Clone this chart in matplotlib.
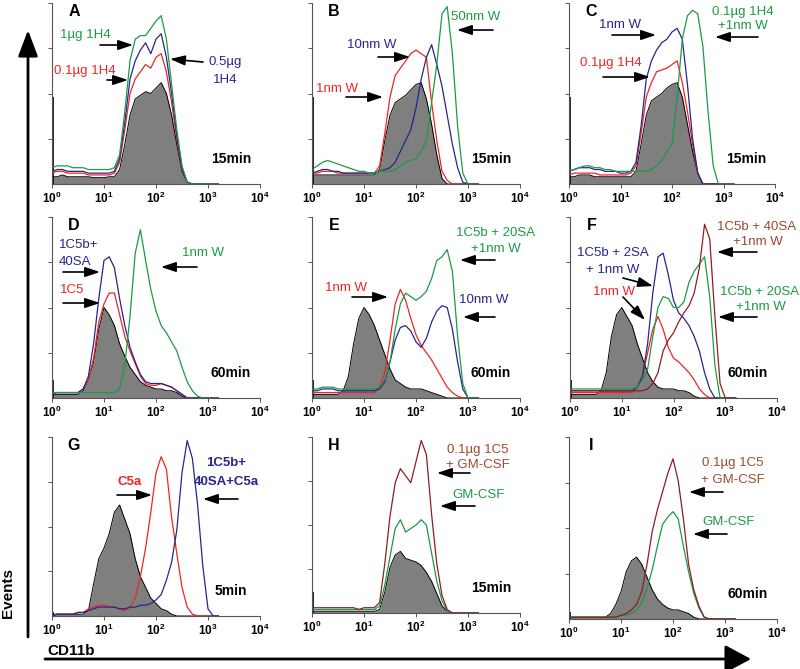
import numpy as np
import matplotlib
matplotlib.use("Agg")
import matplotlib.pyplot as plt
from matplotlib.patches import FancyArrowPatch

plt.rcParams["font.family"] = ["Liberation Sans", "DejaVu Sans"]
plt.rcParams["mathtext.fontset"] = "custom"
plt.rcParams["mathtext.rm"] = "Liberation Sans"
plt.rcParams["mathtext.bf"] = "Liberation Sans:bold"

# CD11b fluorescence bins (log10), events as % of panel height
log_bins = np.round(np.arange(0, 3.25, 0.1), 1)

a_gray = [4, 4, 5, 4, 4, 4, 4, 4, 3.5, 3.5, 3.5, 4, 4, 8, 22, 38, 47, 49, 51, 50, 53, 56, 50, 38, 22, 7, 1, 0, 0, 0, 0, 0, 0]
a_red = [6, 7, 7, 6, 6, 6, 6, 5, 5, 5, 5, 5, 6, 12, 30, 50, 58, 62, 66, 64, 70, 72, 62, 45, 25, 8, 1, 0, 0, 0, 0, 0, 0]
a_blue = [7, 8, 8, 7, 7, 7, 7, 6, 6, 6, 6, 6, 7, 14, 34, 58, 68, 74, 78, 72, 80, 83, 70, 50, 27, 9, 1, 0, 0, 0, 0, 0, 0]
a_green = [9, 10, 10, 10, 9, 9, 9, 8, 8, 8, 8, 8, 9, 16, 40, 68, 80, 82, 82, 86, 90, 93, 80, 55, 30, 10, 1, 0, 0, 0, 0, 0, 0]

b_gray = [5, 5, 5, 5, 5, 5, 5, 5, 5, 5, 5, 5, 5, 8, 24, 38, 45, 47, 49, 52, 55, 56, 47, 33, 16, 3, 0, 0, 0, 0, 0, 0, 0]
b_red = [6, 6, 7, 7, 7, 6, 6, 6, 6, 6, 6, 6, 6, 10, 28, 48, 60, 64, 68, 72, 74, 72, 70, 45, 24, 7, 2, 0, 0, 0, 0, 0, 0]
b_blue = [6, 7, 8, 8, 7, 7, 6, 6, 6, 6, 6, 6, 6, 7, 8, 9, 12, 18, 24, 30, 42, 58, 70, 77, 66, 54, 38, 22, 9, 1, 0, 0, 0]
b_green = [8, 10, 12, 13, 12, 11, 10, 9, 8, 7, 7, 6, 6, 7, 7, 7, 8, 10, 12, 13, 14, 18, 24, 45, 66, 94, 98, 72, 32, 6, 0, 0, 0]

c_gray = [4, 4, 5, 5, 5, 4, 4, 4, 4, 4, 4, 4, 4, 7, 22, 38, 46, 48, 50, 53, 55, 56, 48, 33, 18, 6, 0, 0, 0, 0, 0, 0, 0]
c_red = [5, 6, 6, 6, 6, 6, 5, 5, 5, 5, 5, 5, 6, 10, 28, 48, 56, 62, 63, 64, 66, 68, 56, 40, 22, 6, 0, 0, 0, 0, 0, 0, 0]
c_blue = [7, 8, 9, 9, 9, 8, 8, 7, 7, 7, 6, 6, 7, 12, 32, 58, 68, 74, 78, 80, 84, 86, 80, 55, 25, 6, 0, 0, 0, 0, 0, 0, 0]
c_green = [7, 8, 9, 10, 10, 9, 9, 8, 8, 7, 7, 7, 7, 7, 7, 7, 8, 10, 13, 18, 22, 48, 80, 93, 96, 94, 76, 40, 10, 0, 0, 0, 0]

d_gray = [2, 2, 2, 2, 2, 2, 4, 10, 20, 38, 50, 46, 40, 30, 23, 17, 13, 9, 7, 6, 5, 5, 4, 4, 3, 1, 0, 0, 0, 0, 0, 0, 0]
d_red = [2, 3, 3, 3, 3, 3, 5, 10, 22, 42, 52, 58, 58, 46, 34, 26, 19, 12, 8, 7, 7, 8, 7, 6, 4, 2, 0, 0, 0, 0, 0, 0, 0]
d_blue = [3, 3, 3, 3, 3, 3, 5, 12, 30, 55, 76, 78, 72, 55, 40, 28, 20, 13, 9, 8, 8, 8, 7, 6, 4, 2, 0, 0, 0, 0, 0, 0, 0]
d_green = [3, 3, 3, 3, 3, 3, 3, 3, 3, 3, 3, 3, 3, 5, 18, 45, 80, 93, 76, 60, 48, 40, 36, 31, 26, 17, 9, 4, 1, 0, 0, 0, 0]

e_gray = [2, 2, 2, 2, 2, 2, 4, 12, 30, 44, 50, 46, 40, 32, 24, 16, 10, 8, 6, 5, 5, 5, 4, 3, 2, 1, 0, 0, 0, 0, 0, 0, 0]
e_red = [3, 3, 3, 3, 3, 3, 3, 3, 3, 3, 3, 3, 3, 6, 14, 32, 52, 60, 54, 44, 35, 29, 25, 21, 16, 11, 6, 3, 1, 0, 0, 0, 0]
e_blue = [4, 4, 5, 5, 5, 4, 4, 4, 4, 4, 4, 4, 4, 5, 9, 20, 32, 39, 40, 37, 31, 28, 33, 42, 48, 51, 50, 38, 20, 5, 0, 0, 0]
e_green = [5, 5, 6, 6, 6, 5, 5, 5, 5, 5, 5, 5, 5, 6, 10, 20, 38, 52, 58, 56, 54, 56, 59, 66, 76, 78, 82, 70, 34, 8, 0, 0, 0]

f_gray = [2, 2, 2, 2, 2, 2, 4, 14, 34, 46, 50, 45, 40, 30, 22, 14, 9, 6, 5, 5, 5, 4, 4, 3, 1, 0, 0, 0, 0, 0, 0, 0, 0]
f_red = [3, 3, 3, 3, 3, 3, 3, 3, 3, 3, 3, 3, 3, 6, 12, 25, 38, 45, 38, 28, 22, 20, 17, 14, 10, 5, 2, 0, 0, 0, 0, 0, 0]
f_blue = [4, 4, 4, 4, 4, 4, 4, 4, 4, 4, 4, 4, 4, 6, 12, 30, 58, 78, 80, 68, 54, 47, 44, 40, 34, 26, 14, 5, 0, 0, 0, 0, 0]
f_green = [5, 5, 5, 5, 5, 5, 5, 5, 5, 5, 5, 5, 5, 6, 10, 16, 34, 50, 56, 55, 50, 50, 53, 64, 70, 74, 78, 56, 18, 0, 0, 0, 0]
f_brown = [4, 4, 4, 4, 4, 4, 4, 4, 4, 4, 4, 4, 4, 4, 4, 5, 8, 14, 26, 32, 36, 42, 47, 51, 58, 72, 96, 88, 45, 8, 0, 0, 0]

g_gray = [1, 1, 1, 1, 1, 1, 1, 3, 18, 32, 38, 46, 58, 62, 54, 46, 32, 22, 16, 10, 7, 4, 3, 1, 0, 0, 0, 0, 0, 0, 0, 0, 0]
g_red = [0, 1, 1, 1, 1, 2, 2, 4, 5, 6, 6, 5, 5, 4, 3, 5, 10, 22, 38, 58, 80, 89, 82, 55, 35, 16, 5, 1, 0, 0, 0, 0, 0]
g_blue = [0, 1, 1, 1, 1, 2, 2, 3, 4, 5, 5, 5, 5, 4, 4, 5, 5, 6, 6, 7, 9, 12, 20, 30, 48, 80, 98, 88, 62, 28, 4, 0, 0]

h_gray = [1, 1, 1, 1, 1, 1, 1, 1, 1, 1, 1, 1, 1, 2, 12, 26, 33, 35, 31, 30, 29, 27, 23, 18, 11, 4, 1, 0, 0, 0, 0, 0, 0]
h_green = [2, 2, 2, 2, 2, 2, 2, 2, 2, 2, 2, 2, 2, 4, 16, 32, 48, 53, 46, 48, 50, 53, 50, 34, 18, 7, 1, 0, 0, 0, 0, 0, 0]
h_brown = [3, 3, 3, 3, 3, 3, 3, 3, 3, 2, 3, 3, 3, 6, 28, 55, 74, 82, 78, 74, 86, 98, 90, 56, 28, 10, 2, 0, 0, 0, 0, 0, 0]

i_gray = [1, 1, 1, 1, 1, 1, 1, 1, 3, 8, 15, 26, 32, 34, 30, 23, 16, 11, 8, 6, 5, 5, 4, 3, 1, 0, 0, 0, 0, 0, 0, 0, 0]
i_green = [1, 1, 1, 1, 1, 1, 1, 1, 1, 1, 2, 2, 3, 5, 9, 17, 27, 40, 52, 56, 59, 55, 40, 26, 14, 6, 1, 0, 0, 0, 0, 0, 0]
i_brown = [1, 1, 1, 1, 1, 1, 1, 1, 1, 1, 2, 3, 5, 8, 15, 30, 48, 60, 70, 80, 88, 76, 55, 30, 16, 7, 1, 0, 0, 0, 0, 0, 0]

# first-bin pile-up of the unstained control, panels A..I
first_bin = [48, 48, 48, 10, 10, 10, 2, 12, 4]
times = ["15min", "15min", "15min", "60min", "60min", "60min", "5min", "15min", "60min"]

RED = "#f02424"
BLUE = "#26268c"
GREEN = "#1c9a46"
BROWN = "#8e1e22"
BROWN_TXT = "#9c4a30"

W, H = 800, 669
fig = plt.figure(figsize=(W / 100, H / 100), dpi=100)

# panel boxes in pixels: left, top, right, bottom
boxes = [(52, 3, 260, 184), (312, 3, 520, 184), (569, 3, 775, 184),
         (52, 217, 260, 398), (312, 217, 520, 398), (570, 217, 777, 398),
         (52, 437, 260, 616), (312, 437, 520, 613), (569, 437, 777, 619)]
grays = [a_gray, b_gray, c_gray, d_gray, e_gray, f_gray, g_gray, h_gray, i_gray]
lines = [[(a_red, RED), (a_blue, BLUE), (a_green, GREEN)],
         [(b_red, RED), (b_blue, BLUE), (b_green, GREEN)],
         [(c_red, RED), (c_blue, BLUE), (c_green, GREEN)],
         [(d_red, RED), (d_blue, BLUE), (d_green, GREEN)],
         [(e_red, RED), (e_blue, BLUE), (e_green, GREEN)],
         [(f_red, RED), (f_blue, BLUE), (f_green, GREEN), (f_brown, BROWN)],
         [(g_red, RED), (g_blue, BLUE)],
         [(h_green, GREEN), (h_brown, BROWN)],
         [(i_green, GREEN), (i_brown, BROWN)]]
letters = "ABCDEFGHI"

xs = 10.0 ** log_bins
for k, (x0, y0, x1, y1) in enumerate(boxes):
    ax = fig.add_axes([x0 / W, 1 - y1 / H, (x1 - x0) / W, (y1 - y0) / H])
    ax.fill_between(xs, 0, grays[k], color="#7f7f7f", lw=0)
    ax.plot(xs, grays[k], color="k", lw=0.7)
    ax.vlines(1.03, 0, first_bin[k], color="k", lw=1.2)
    for vals, col in lines[k]:
        ax.plot(xs, vals, color=col, lw=0.9)
    ax.set_xscale("log")
    ax.set_xlim(1, 1e4)
    ax.set_ylim(0, 100)
    ax.set_yticks([25, 50, 75, 100])
    ax.set_yticklabels([])
    ax.set_xticks([1, 10, 100, 1000, 10000])
    ax.set_xticklabels([r"$\mathbf{10^{%d}}$" % i for i in range(5)], fontsize=8.5)
    for s in ["top", "right"]:
        ax.spines[s].set_visible(False)
    for s in ["left", "bottom"]:
        ax.spines[s].set_color("#555555")
        ax.spines[s].set_linewidth(0.8)
    ax.tick_params(axis="both", which="major", length=3, width=0.7, color="#555555", pad=2)
    ax.tick_params(axis="x", which="minor", length=1.5, width=0.5, color="#555555")
    ax.patch.set_alpha(0)
    fig.text((x0 + 22) / W, 1 - (y0 + 8) / H, letters[k], fontsize=11.5, fontweight="bold",
             ha="center", va="center")
    fig.text((x1 - 29) / W, 1 - (y1 - 25) / H, times[k], fontsize=10, fontweight="bold",
             ha="center", va="center")


def label(x, y, s, color, **kw):
    fig.text(x / W, 1 - y / H, s, color=color, fontsize=9.5, ha="center", va="center", **kw)


def arrow(xa, ya, xb, yb):
    fig.add_artist(FancyArrowPatch((xa / W, 1 - ya / H), (xb / W, 1 - yb / H),
                                   transform=fig.transFigure,
                                   arrowstyle="-|>,head_length=0.9,head_width=0.3",
                                   mutation_scale=10, color="k", lw=1.2,
                                   shrinkA=0, shrinkB=0))


# A
label(85, 35, "1µg 1H4", GREEN)
label(85, 71, "0.1µg 1H4", RED)
label(225, 62, "0.5µg", BLUE)
label(225, 80, "1H4", BLUE)
arrow(100, 45, 133, 45)
arrow(107, 80, 128, 80)
arrow(203, 62, 170, 59)
# B
label(372, 45, "10nm W", BLUE)
label(337, 89, "1nm W", RED)
label(476, 17, "50nm W", GREEN)
arrow(378, 57, 410, 57)
arrow(346, 97, 383, 97)
arrow(493, 30, 457, 30)
# C
label(620, 25, "1nm W", BLUE)
label(611, 63, "0.1µg 1H4", RED)
label(743, 12, "0.1µg 1H4", GREEN)
label(743, 26, "+1nm W", GREEN)
arrow(612, 35, 656, 35)
arrow(603, 77, 650, 77)
arrow(758, 37, 715, 37)
# D
fig.text(59 / W, 1 - 245 / H, "1C5b+", color=BLUE, fontsize=9.5, va="center")
fig.text(59 / W, 1 - 262 / H, "40SA", color=BLUE, fontsize=9.5, va="center")
label(72, 290, "1C5", RED)
label(203, 253, "1nm W", GREEN)
arrow(63, 272, 100, 272)
arrow(63, 303, 100, 303)
arrow(197, 267, 161, 267)
# E
label(346, 288, "1nm W", RED)
label(484, 300, "10nm W", BLUE)
label(496, 233, "1C5b + 20SA", GREEN)
label(496, 249, "+1nm W", GREEN)
arrow(352, 297, 388, 297)
arrow(495, 317, 463, 317)
arrow(495, 260, 460, 260)
# F
label(613, 253, "1C5b + 2SA", BLUE)
label(613, 270, "+ 1nm W", BLUE)
label(614, 292, "1nm W", RED)
label(757, 227, "1C5b + 40SA", BROWN_TXT)
label(758, 242, "+1nm W", BROWN_TXT)
label(760, 292, "1C5b + 20SA", GREEN)
label(761, 307, "+1nm W", GREEN)
arrow(623, 278, 653, 286)
arrow(623, 297, 645, 320)
arrow(757, 252, 717, 252)
arrow(757, 317, 718, 317)
# G
label(130, 482, "C5a", RED, fontweight="bold")
label(226, 463, "1C5b+", BLUE, fontweight="bold")
label(226, 482, "40SA+C5a", BLUE, fontweight="bold")
arrow(117, 495, 152, 495)
arrow(238, 499, 203, 499)
# H
label(478, 450, "0.1µg 1C5", BROWN_TXT)
label(478, 465, "+ GM-CSF", BROWN_TXT)
label(479, 495, "GM-CSF", GREEN)
arrow(470, 473, 437, 473)
arrow(475, 506, 440, 506)
# I
label(733, 463, "0.1µg 1C5", BROWN_TXT)
label(733, 480, "+ GM-CSF", BROWN_TXT)
label(729, 522, "GM-CSF", GREEN)
arrow(723, 492, 689, 492)
arrow(727, 534, 693, 534)

# big axis arrows
fig.add_artist(FancyArrowPatch((28 / W, 1 - 637 / H), (28 / W, 1 - 30 / H),
                               transform=fig.transFigure,
                               arrowstyle="-|>,head_length=0.8,head_width=0.3",
                               mutation_scale=20, color="k", lw=2, shrinkA=0, shrinkB=0))
fig.add_artist(FancyArrowPatch((45 / W, 1 - 659 / H), (751 / W, 1 - 659 / H),
                               transform=fig.transFigure,
                               arrowstyle="-|>,head_length=0.8,head_width=0.43",
                               mutation_scale=20, color="k", lw=2, shrinkA=0, shrinkB=0))
fig.text(8 / W, 1 - 593 / H, "Events", rotation=90, fontsize=11, fontweight="bold",
         ha="center", va="center")
fig.text(47 / W, 1 - 651 / H, "CD11b", fontsize=11, fontweight="bold", ha="left", va="center")

fig.savefig("out.png", dpi=100)
